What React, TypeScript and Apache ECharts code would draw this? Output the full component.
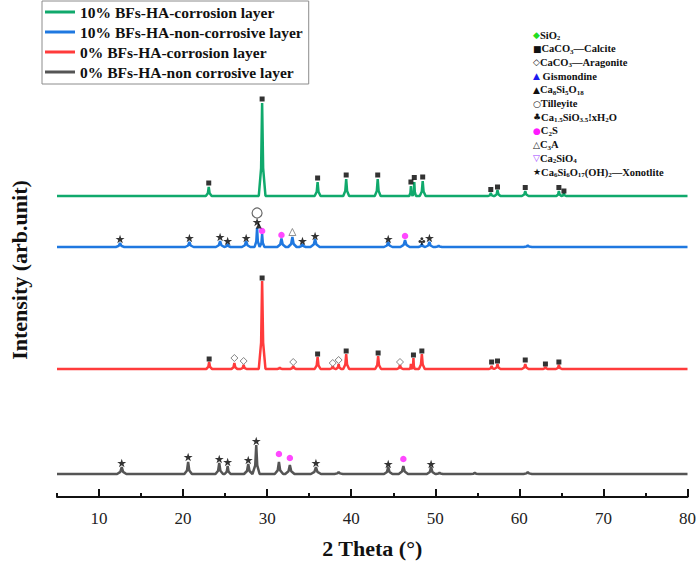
import React, { useEffect, useRef } from "react";
import * as echarts from "echarts";

// ---------- data ----------
const X_MIN = 5;
const X_MAX = 80;
const majorTicks = [10, 20, 30, 40, 50, 60, 70, 80];
const minorTicks = [5, 15, 25, 35, 45, 55, 65, 75];

const seriesNames = [
  "10% BFs-HA-corrosion layer",
  "10% BFs-HA-non-corrosive layer",
  "0% BFs-HA-corrosion layer",
  "0% BFs-HA-non corrosive layer",
];
const seriesColors = ["#10a96c", "#1f78e0", "#ff3b3b", "#555555"];
// vertical offsets of each pattern (arb. units)
const baselines = [3010, 2500, 1280, 230];

// peaks: [2theta, height, half width]
const greenPeaks = [
  [23.05, 90, 0.35], [29.4, 930, 0.4], [36.0, 140, 0.35], [39.4, 170, 0.35],
  [43.15, 170, 0.35], [47.1, 100, 0.2], [47.5, 140, 0.2], [48.5, 150, 0.35],
  [56.6, 30, 0.3], [57.4, 60, 0.35], [60.7, 50, 0.4], [64.7, 50, 0.3], [65.3, 25, 0.25],
];
const bluePeaks = [
  [12.5, 40, 0.5], [20.75, 50, 0.5], [24.4, 60, 0.5], [25.3, 30, 0.35], [27.5, 60, 0.5],
  [28.8, 190, 0.3], [29.4, 130, 0.28], [31.7, 85, 0.5], [33.0, 100, 0.5], [34.2, 30, 0.4],
  [35.7, 80, 0.55], [44.4, 50, 0.5], [46.4, 70, 0.55], [48.4, 30, 0.4], [49.3, 50, 0.45],
  [50.4, 15, 0.4], [61.0, 15, 0.5],
];
const redPeaks = [
  [23.1, 70, 0.35], [26.1, 60, 0.35], [27.2, 40, 0.35], [29.4, 880, 0.4], [31.5, 15, 0.3],
  [33.1, 30, 0.35], [36.0, 120, 0.35], [37.8, 30, 0.3], [38.5, 50, 0.3], [39.4, 150, 0.35],
  [43.2, 130, 0.35], [45.8, 40, 0.35], [47.1, 50, 0.15], [47.4, 110, 0.15], [48.4, 150, 0.35],
  [56.7, 30, 0.3], [57.4, 50, 0.35], [60.7, 50, 0.4], [63.1, 20, 0.3], [64.7, 40, 0.35],
];
const grayPeaks = [
  [12.7, 70, 0.55], [20.6, 120, 0.45], [24.3, 110, 0.45], [25.3, 80, 0.35], [27.75, 100, 0.5],
  [28.7, 290, 0.4], [31.4, 120, 0.5], [32.7, 90, 0.55], [35.8, 70, 0.6], [38.5, 20, 0.5],
  [44.4, 70, 0.5], [46.2, 80, 0.55], [49.5, 70, 0.5], [50.5, 15, 0.4], [54.7, 12, 0.5],
  [61.0, 20, 0.5],
];

// phase markers: [2theta, intensity, phase]
const greenMarks = [
  [23.05, 3140, "calcite"], [29.4, 3980, "calcite"], [36.0, 3190, "calcite"],
  [39.4, 3220, "calcite"], [43.15, 3220, "calcite"], [47.1, 3150, "calcite"],
  [47.5, 3195, "calcite"], [48.5, 3200, "calcite"], [56.6, 3075, "calcite"],
  [57.4, 3100, "calcite"], [60.7, 3095, "calcite"], [64.7, 3095, "calcite"],
  [65.3, 3060, "calcite"],
];
const blueMarks = [
  [12.5, 2580, "xonotlite"], [20.75, 2590, "xonotlite"], [24.4, 2600, "xonotlite"],
  [25.3, 2560, "xonotlite"], [27.5, 2590, "xonotlite"], [28.8, 2750, "xonotlite"],
  [29.0, 2715, "ca8si5o18"], [28.8, 2840, "tilleyite"], [29.4, 2660, "c2s"],
  [31.7, 2620, "c2s"], [33.0, 2650, "c3a"], [34.2, 2560, "xonotlite"],
  [35.7, 2610, "xonotlite"], [44.4, 2580, "xonotlite"], [46.4, 2610, "c2s"],
  [48.4, 2560, "club"], [49.3, 2590, "xonotlite"],
];
const redMarks = [
  [23.1, 1380, "calcite"], [26.1, 1390, "aragonite"], [27.2, 1360, "aragonite"],
  [29.4, 2190, "calcite"], [33.1, 1350, "aragonite"], [36.0, 1430, "calcite"],
  [37.8, 1340, "aragonite"], [38.5, 1370, "aragonite"], [39.4, 1460, "calcite"],
  [43.2, 1440, "calcite"], [45.8, 1350, "aragonite"], [47.4, 1420, "calcite"],
  [48.4, 1460, "calcite"], [56.7, 1350, "calcite"], [57.4, 1360, "calcite"],
  [60.7, 1370, "calcite"], [63.1, 1330, "calcite"], [64.7, 1350, "calcite"],
];
const grayMarks = [
  [12.7, 340, "xonotlite"], [20.6, 400, "xonotlite"], [24.3, 380, "xonotlite"],
  [25.3, 350, "xonotlite"], [27.75, 370, "xonotlite"], [28.7, 560, "xonotlite"],
  [31.4, 430, "c2s"], [32.7, 390, "c2s"], [35.8, 340, "xonotlite"],
  [44.4, 330, "xonotlite"], [46.2, 380, "c2s"], [49.5, 330, "xonotlite"],
];

// phase key legend (right side)
const phaseLegend = [
  "{g|◆}{t|SiO}{b|2}",
  "{k|■}{t|CaCO}{b|3}{t|—Calcite}",
  "{k|◇}{t|CaCO}{b|3}{t|—Aragonite}",
  "{u|▲}{t| Gismondine}",
  "{k|▲}{t|Ca}{b|8}{t|Si}{b|5}{t|O}{b|18}",
  "{k|○}{t|Tilleyite}",
  "{k|♣}{t|Ca}{b|1.5}{t|SiO}{b|3.5}{t|!xH}{b|2}{t|O}",
  "{m|●}{t|C}{b|2}{t|S}",
  "{k|△}{t|C}{b|3}{t|A}",
  "{p|▽}{t|Ca}{b|2}{t|SiO}{b|4}",
  "{k|★}{t|Ca}{b|6}{t|Si}{b|6}{t|O}{b|17}{t|(OH)}{b|2}{t|—Xonotlite}",
];

// ---------- styles ----------
const STAR =
  "path://M50 0 L61.8 35.3 L98.9 35.3 L68.9 57.2 L80.3 92.5 L50 70.7 L19.7 92.5 L31.1 57.2 L1.1 35.3 L38.2 35.3 Z";
const CLUB =
  "path://M50 8 A17 17 0 1 1 49.9 8 Z M28 40 A17 17 0 1 1 27.9 40 Z M72 40 A17 17 0 1 1 71.9 40 Z M45 50 L38 94 L62 94 L55 50 Z";

const phaseStyles: Record<string, any> = {
  calcite: { symbol: "rect", symbolSize: 5, itemStyle: { color: "#000" } },
  aragonite: {
    symbol: "diamond", symbolSize: 7,
    itemStyle: { color: "#fff", borderColor: "#666", borderWidth: 1 },
  },
  xonotlite: { symbol: STAR, symbolSize: 9, itemStyle: { color: "#000" } },
  c2s: { symbol: "circle", symbolSize: 6.5, itemStyle: { color: "#ff1aff" } },
  tilleyite: {
    symbol: "circle", symbolSize: 10,
    itemStyle: { color: "#fff", borderColor: "#444", borderWidth: 1.2 },
  },
  ca8si5o18: { symbol: "triangle", symbolSize: 6, itemStyle: { color: "#000" } },
  c3a: {
    symbol: "triangle", symbolSize: 7,
    itemStyle: { color: "#fff", borderColor: "#777", borderWidth: 1 },
  },
  club: { symbol: CLUB, symbolSize: 7.5, itemStyle: { color: "#000" } },
};

function profile(base: number, peaks: number[][]) {
  const pts: number[][] = [[X_MIN, base]];
  for (const [p, h, w] of peaks) {
    pts.push(
      [p - w, base],
      [p - w * 0.3, base + h * 0.3],
      [p, base + h],
      [p + w * 0.3, base + h * 0.3],
      [p + w, base]
    );
  }
  pts.push([X_MAX, base]);
  return pts;
}

export default function App() {
  const ref = useRef<HTMLDivElement>(null);

  useEffect(() => {
    document.body.style.margin = "0";
    const chart = echarts.init(ref.current!, null, { renderer: "svg" });

    const peakSets = [greenPeaks, bluePeaks, redPeaks, grayPeaks];
    const lineSeries = seriesNames.map((name, i) => ({
      name,
      type: "line",
      data: profile(baselines[i], peakSets[i]),
      symbol: "none",
      showSymbol: false,
      lineStyle: { color: seriesColors[i], width: 2.5 },
      itemStyle: { color: seriesColors[i] },
      z: 2,
      silent: true,
    }));

    const allMarks = [...greenMarks, ...blueMarks, ...redMarks, ...grayMarks];
    const scatterSeries = Object.keys(phaseStyles).map((ph) => ({
      name: ph,
      type: "scatter",
      data: allMarks.filter((m) => m[2] === ph).map((m) => [m[0], m[1]]),
      symbolKeepAspect: true,
      z: 5,
      silent: true,
      ...phaseStyles[ph],
    }));

    const serif = "Liberation Serif";
    const rich = {
      t: { fontFamily: serif, fontWeight: "bold", fontSize: 10.5, fill: "#111", lineHeight: 13 },
      b: { fontFamily: serif, fontWeight: "bold", fontSize: 7, fill: "#111", lineHeight: 8, verticalAlign: "bottom" },
      k: { fontFamily: "DejaVu Sans", fontSize: 9, fill: "#111", lineHeight: 13 },
      g: { fontFamily: "DejaVu Sans", fontSize: 9, fill: "#22dd22", lineHeight: 13 },
      u: { fontFamily: "DejaVu Sans", fontSize: 9, fill: "#1a1aee", lineHeight: 13 },
      m: { fontFamily: "DejaVu Sans", fontSize: 9, fill: "#ff1aff", lineHeight: 13 },
      p: { fontFamily: "DejaVu Sans", fontSize: 9, fill: "#a040ff", lineHeight: 13 },
    };

    const legendTexts = phaseLegend.map((txt, i) => ({
      type: "text",
      x: 533,
      y: 35 + i * 13.7,
      style: { text: txt, rich, verticalAlign: "middle", align: "left" },
    }));

    chart.setOption({
      animation: false,
      backgroundColor: "#fff",
      grid: { left: 47, right: 9, top: 43, bottom: 67, containLabel: false },
      legend: {
        orient: "vertical",
        left: 42,
        top: 1,
        data: seriesNames,
        icon: "rect",
        itemWidth: 30,
        itemHeight: 3,
        itemGap: 2,
        padding: [2, 6, 3, 3],
        borderColor: "#8c8c8c",
        borderWidth: 1,
        textStyle: {
          fontFamily: serif,
          fontWeight: "bold",
          fontSize: 15.5,
          color: "#111",
          lineHeight: 18,
        },
      },
      xAxis: [
        {
          type: "value",
          min: X_MIN,
          max: X_MAX,
          position: "bottom",
          name: "2 Theta (°)",
          nameLocation: "middle",
          nameGap: 40,
          nameTextStyle: { fontFamily: serif, fontWeight: "bold", fontSize: 22, color: "#111" },
          axisLine: { show: true, lineStyle: { color: "#111", width: 2 } },
          axisTick: { show: true, inside: true, length: 8, customValues: majorTicks, lineStyle: { color: "#111", width: 2 } },
          axisLabel: { customValues: majorTicks, fontFamily: serif, fontSize: 17, color: "#222", margin: 13 },
          splitLine: { show: false },
        },
        {
          type: "value",
          min: X_MIN,
          max: X_MAX,
          position: "bottom",
          axisLine: { show: false },
          axisTick: { show: true, inside: true, length: 4, customValues: minorTicks, lineStyle: { color: "#111", width: 2 } },
          axisLabel: { show: false },
          splitLine: { show: false },
        },
      ],
      yAxis: {
        type: "value",
        min: 0,
        max: 4540,
        name: "Intensity (arb.unit)",
        nameLocation: "middle",
        nameRotate: 90,
        nameGap: 27,
        nameTextStyle: { fontFamily: serif, fontWeight: "bold", fontSize: 22, color: "#111" },
        axisLine: { show: false },
        axisTick: { show: false },
        axisLabel: { show: false },
        splitLine: { show: false },
      },
      series: [...lineSeries, ...scatterSeries],
      graphic: legendTexts,
    });

    return () => chart.dispose();
  }, []);

  return <div ref={ref} style={{ width: 699, height: 564 }} />;
}
